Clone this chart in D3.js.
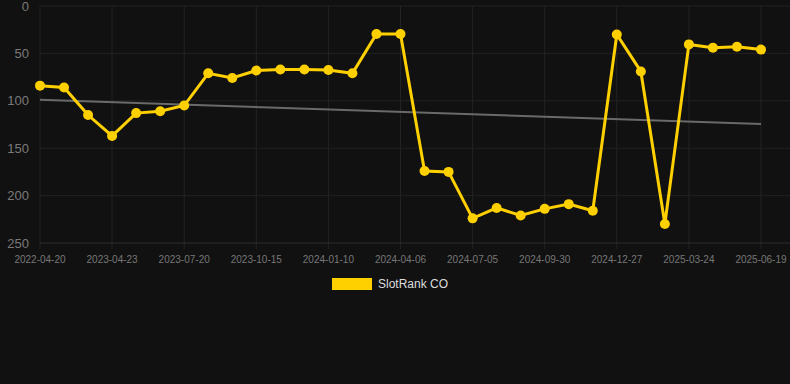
<!DOCTYPE html>
<html>
<head>
<meta charset="utf-8">
<script src="https://cdn.jsdelivr.net/npm/d3@7"></script>
<style>
  body { margin: 0; background: #111111; }
  svg { display: block; }
</style>
</head>
<body>
<div id="chart"></div>
<script>
// categories on the x axis (only every 3rd one is labelled)
var dates = ["2022-04-20", "d1", "d2", "2023-04-23", "d4", "d5", "2023-07-20", "d7", "d8",
  "2023-10-15", "d10", "d11", "2024-01-10", "d13", "d14", "2024-04-06", "d16", "d17",
  "2024-07-05", "d19", "d20", "2024-09-30", "d22", "d23", "2024-12-27", "d25", "d26",
  "2025-03-24", "d28", "d29", "2025-06-19"]

// rank values (lower is better, axis reversed)
var ranks = [84, 86, 115, 137, 113, 111, 105, 71, 76, 68, 67, 67, 67.5, 71, 29.5, 29.5,
  174, 175, 224, 213, 221, 214, 209, 216, 30, 69, 230, 40.5, 44, 43, 46]

// trend line start / end values
var trend = [99, 124.5]

var yTicks = [0, 50, 100, 150, 200, 250]
var seriesName = "SlotRank CO"

// chart size and plot area (note: "top" is taken by window.top)
var w = 790, h = 384
var plotLeft = 40, plotRight = 761, plotTop = 6, plotBottom = 243

var svg = d3.select("#chart").append("svg")
  .attr("width", w)
  .attr("height", h)

// scales
var xScale = d3.scalePoint().domain(dates).range([plotLeft, plotRight])
var yScale = d3.scaleLinear().domain([0, 250]).range([plotTop, plotBottom])

var labelled = dates.filter(function(d, i) { return i % 3 == 0 })

// vertical grid
svg.append("g")
  .selectAll("line")
  .data(labelled)
  .enter().append("line")
  .attr("x1", function(d) { return xScale(d) })
  .attr("x2", function(d) { return xScale(d) })
  .attr("y1", plotTop)
  .attr("y2", plotBottom + 6)
  .attr("stroke", "#232323")
  .attr("stroke-width", 1)

// horizontal grid
svg.append("g")
  .selectAll("line")
  .data(yTicks)
  .enter().append("line")
  .attr("x1", plotLeft)
  .attr("x2", w)
  .attr("y1", function(d) { return yScale(d) })
  .attr("y2", function(d) { return yScale(d) })
  .attr("stroke", function(d) { return d == 250 ? "#2e2e2e" : "#222222" })
  .attr("stroke-width", 1)

// y axis labels
svg.append("g")
  .selectAll("text")
  .data(yTicks)
  .enter().append("text")
  .attr("x", 29)
  .attr("y", function(d) { return yScale(d) })
  .attr("dy", "0.35em")
  .attr("text-anchor", "end")
  .style("font", "13px 'Liberation Sans', Arial, sans-serif")
  .attr("fill", "#7a7a7a")
  .text(function(d) { return d })

// x axis labels
svg.append("g")
  .selectAll("text")
  .data(labelled)
  .enter().append("text")
  .attr("x", function(d) { return xScale(d) })
  .attr("y", plotBottom + 20)
  .attr("text-anchor", "middle")
  .style("font", "10px 'Liberation Sans', Arial, sans-serif")
  .attr("fill", "#777777")
  .text(function(d) { return d })

// trend line
svg.append("line")
  .attr("x1", xScale(dates[0]))
  .attr("x2", xScale(dates[dates.length - 1]))
  .attr("y1", yScale(trend[0]))
  .attr("y2", yScale(trend[1]))
  .attr("stroke", "#6a6a6a")
  .attr("stroke-width", 2)

// the rank line
var line = d3.line()
  .x(function(d, i) { return xScale(dates[i]) })
  .y(function(d) { return yScale(d) })

svg.append("path")
  .datum(ranks)
  .attr("d", line)
  .attr("fill", "none")
  .attr("stroke", "#ffd000")
  .attr("stroke-width", 3)
  .attr("stroke-linejoin", "miter")

svg.append("g")
  .selectAll("circle")
  .data(ranks)
  .enter().append("circle")
  .attr("cx", function(d, i) { return xScale(dates[i]) })
  .attr("cy", function(d) { return yScale(d) })
  .attr("r", 5)
  .attr("fill", "#ffd000")

// legend
svg.append("rect")
  .attr("x", 332)
  .attr("y", 278)
  .attr("width", 40)
  .attr("height", 12)
  .attr("fill", "#ffd000")

svg.append("text")
  .attr("x", 378)
  .attr("y", 284)
  .attr("dy", "0.35em")
  .style("font", "12px 'Liberation Sans', Arial, sans-serif")
  .attr("fill", "#dddddd")
  .text(seriesName)
</script>
</body>
</html>
